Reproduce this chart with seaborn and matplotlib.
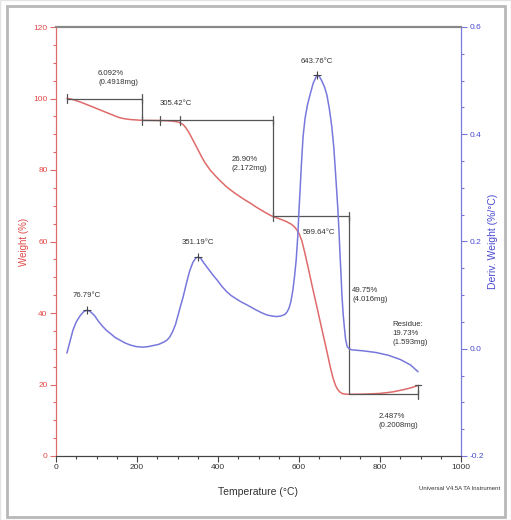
import matplotlib
matplotlib.use("Agg")
import matplotlib.pyplot as plt
from matplotlib.patches import Rectangle
from matplotlib.ticker import MultipleLocator, FormatStrFormatter
import seaborn as sns
import pandas as pd

# ---- data ----
temp_w = [27, 35, 45, 55, 65, 75, 85, 97, 109, 122, 135, 147, 158, 171, 185, 198, 212,
          240, 270, 285, 295, 305, 314, 320, 326, 332, 338, 344, 350, 355, 360, 367,
          375, 382, 390, 400, 410, 420, 430, 442, 455, 467, 480, 492, 505, 520, 535,
          548, 560, 570, 580, 588, 595, 601, 607, 614, 622, 633, 645, 657, 669, 677,
          684, 690, 695, 700, 706, 715, 724, 760, 800, 830, 860, 880, 894]
weight = [100, 99.9, 99.6, 99.2, 98.8, 98.35, 97.9, 97.35, 96.8, 96.2, 95.6, 95.05,
          94.6, 94.3, 94.1, 94.0, 93.9, 93.85, 93.8, 93.7, 93.55, 93.3, 92.7, 91.9,
          90.9, 89.7, 88.4, 87.1, 85.8, 84.7, 83.6, 82.2, 80.9, 79.8, 78.8, 77.6, 76.5,
          75.4, 74.5, 73.5, 72.5, 71.6, 70.7, 69.8, 68.9, 67.9, 67.0, 66.5, 66.0, 65.5,
          64.9, 64.2, 63.2, 62.0, 60.2, 57.0, 53.0, 47.3, 41.3, 35.2, 29.2, 25.0, 21.8,
          19.8, 18.7, 18.0, 17.5, 17.3, 17.25, 17.3, 17.5, 17.9, 18.6, 19.2, 19.73]

temp_d = [27, 35, 42, 50, 60, 68, 77, 85, 95, 105, 116, 125, 135, 146, 158, 170, 183,
          198, 215, 228, 240, 253, 265, 274, 281, 288, 295, 304, 314, 322, 330, 338,
          345, 351, 358, 365, 372, 380, 389, 398, 410, 422, 433, 445, 458, 471, 483,
          495, 508, 521, 533, 545, 555, 565, 570, 575, 580, 585, 589, 593, 597, 600,
          603, 606, 610, 615, 621, 627, 635, 644, 650, 656, 663, 669, 675, 681, 686,
          690, 693, 696, 699, 701, 704, 706, 709, 712, 715, 719, 724, 730, 760, 790,
          820, 850, 875, 894]
deriv = [-0.008, 0.015, 0.035, 0.05, 0.062, 0.069, 0.072, 0.069, 0.062, 0.051, 0.041,
         0.034, 0.028, 0.021, 0.016, 0.011, 0.007, 0.004, 0.003, 0.004, 0.006, 0.008,
         0.012, 0.016, 0.022, 0.032, 0.045, 0.07, 0.097, 0.122, 0.145, 0.161, 0.169,
         0.171, 0.168, 0.16, 0.153, 0.145, 0.136, 0.128, 0.116, 0.106, 0.099, 0.093,
         0.087, 0.082, 0.077, 0.072, 0.067, 0.063, 0.061, 0.06, 0.061, 0.064, 0.068,
         0.075, 0.088, 0.11, 0.135, 0.165, 0.21, 0.259, 0.30, 0.345, 0.395, 0.43,
         0.455, 0.473, 0.495, 0.51, 0.508, 0.5, 0.488, 0.473, 0.447, 0.414, 0.375,
         0.33, 0.295, 0.26, 0.215, 0.18, 0.135, 0.1, 0.065, 0.04, 0.018, 0.004, 0.0,
         -0.002, -0.004, -0.007, -0.012, -0.02, -0.03, -0.043]

peak_temps = [76.79, 351.19, 643.76]
peak_derivs = [0.072, 0.171, 0.51]
peak_labels = ["76.79°C", "351.19°C", "643.76°C"]

step_temps = [27, 212, 535, 724, 894]
step_weights = [100, 93.9, 67.0, 17.25, 19.73]
onset_temps = [257, 305.42]

x_ticks = [0, 200, 400, 600, 800, 1000]
w_ticks = [0, 20, 40, 60, 80, 100, 120]
d_ticks = [-0.2, 0.0, 0.2, 0.4, 0.6]

df_w = pd.DataFrame({"Temperature": temp_w, "Weight": weight})
df_d = pd.DataFrame({"Temperature": temp_d, "Deriv": deriv})

sns.set_style("white")
plt.rcParams['font.family'] = ['Liberation Sans', 'DejaVu Sans']

RED = "#e06a6a"
RED_T = "#e04848"
BLUE = "#7878dc"
BLUE_T = "#4a4ad0"
GRAY = "#555555"
TXT = "#333333"

fig = plt.figure(figsize=(5.11, 5.20), dpi=100)
# screenshot-like frame
fig.patches.append(Rectangle((7 / 511, 3 / 520), 498 / 511, 511 / 520, transform=fig.transFigure,
                             fill=False, edgecolor="#b8b8b8", linewidth=2.0))
fig.patches.append(Rectangle((0, 0), 1, 1, transform=fig.transFigure,
                             fill=False, edgecolor="#e4e4e4", linewidth=1.0))

ax = fig.add_axes([56 / 511, 1 - 456 / 520, 405 / 511, 429 / 520])
ax2 = ax.twinx()

sns.lineplot(data=df_w, x="Temperature", y="Weight", ax=ax, color=RED, linewidth=1.1,
             sort=False, estimator=None)
sns.lineplot(data=df_d, x="Temperature", y="Deriv", ax=ax2, color=BLUE, linewidth=1.1,
             sort=False, estimator=None)

ax.set_xlim(0, 1000)
ax.set_ylim(0, 120)
ax2.set_ylim(-0.2, 0.6)

ax.set_xticks(x_ticks)
ax.set_yticks(w_ticks)
ax2.set_yticks(d_ticks)
ax.xaxis.set_minor_locator(MultipleLocator(50))
ax.yaxis.set_minor_locator(MultipleLocator(5))
ax2.yaxis.set_minor_locator(MultipleLocator(0.05))
ax2.yaxis.set_major_formatter(FormatStrFormatter("%.1f"))

for a in (ax, ax2):
    a.spines["top"].set_color("#888888")
    a.spines["top"].set_linewidth(1.5)
    a.spines["bottom"].set_color("#444444")
    a.spines["left"].set_color(RED)
    a.spines["right"].set_color(BLUE)
    for s in a.spines.values():
        s.set_visible(True)

ax.tick_params(axis="x", which="both", direction="out", color="#444444", labelcolor="#333333",
               labelsize=6, length=4, width=0.8, pad=2, bottom=True)
ax.tick_params(axis="x", which="minor", length=2.5)
ax.tick_params(axis="y", which="both", direction="out", color=RED, labelcolor=RED_T,
               labelsize=6, length=4, width=0.8, pad=2, left=True)
ax.tick_params(axis="y", which="minor", length=2.5)
ax2.tick_params(axis="y", which="both", direction="out", color=BLUE, labelcolor=BLUE_T,
                labelsize=6, length=4, width=0.8, pad=2, right=True)
ax2.tick_params(axis="y", which="minor", length=2.5)

ax.set_xlabel("Temperature (°C)", fontsize=7.5, color="#333333", labelpad=11)
ax.set_ylabel("Weight (%)", fontsize=7, color=RED_T, labelpad=3)
ax2.set_ylabel("Deriv. Weight (%/°C)", fontsize=7.5, color=BLUE_T, labelpad=3, rotation=90)

# step brackets
cap = 1.3
for i in range(len(step_temps) - 1):
    t0, t1 = step_temps[i], step_temps[i + 1]
    w0, w1 = step_weights[i], step_weights[i + 1]
    ax.plot([t0, t1], [w0, w0], color=GRAY, lw=0.9, zorder=5)
    ax.plot([t1, t1], [w0, w1], color=GRAY, lw=0.9, zorder=5)
    ax.plot([t1, t1], [w0 - cap, w0 + cap], color=GRAY, lw=0.9, zorder=5)
    if i < len(step_temps) - 2:
        ax.plot([t0, t0], [w0 - cap, w0 + cap], color=GRAY, lw=0.9, zorder=5)
    else:
        ax.plot([t1 - 8, t1 + 8], [w1, w1], color=GRAY, lw=0.9, zorder=5)
for t in onset_temps:
    ax.plot([t, t], [step_weights[1] - cap, step_weights[1] + cap], color=GRAY, lw=0.9, zorder=5)

# peak markers
ax2.scatter(peak_temps, peak_derivs, marker="+", s=30, color="#444444", linewidths=0.8, zorder=6)

fs = 5.6
ls = 1.35
ax.text(104, 105.8, "6.092%\n(0.4918mg)", fontsize=fs, color=TXT, ha="left", va="center", linespacing=ls)
ax.text(257, 98.6, "305.42°C", fontsize=fs, color=TXT, ha="left", va="center")
ax.text(433, 81.6, "26.90%\n(2.172mg)", fontsize=fs, color=TXT, ha="left", va="center", linespacing=ls)
ax.text(610, 62.6, "599.64°C", fontsize=fs, color=TXT, ha="left", va="center")
ax.text(731, 45.0, "49.75%\n(4.016mg)", fontsize=fs, color=TXT, ha="left", va="center", linespacing=ls)
ax.text(830, 34.2, "Residue:\n19.73%\n(1.593mg)", fontsize=fs, color=TXT, ha="left", va="center", linespacing=ls)
ax.text(797, 9.8, "2.487%\n(0.2008mg)", fontsize=fs, color=TXT, ha="left", va="center", linespacing=ls)

label_offsets = [0.027, 0.027, 0.025]
for t, d, lab, off in zip(peak_temps, peak_derivs, peak_labels, label_offsets):
    ax2.text(t, d + off, lab, fontsize=fs, color=TXT, ha="center", va="center")

fig.text(460 / 511, 1 - 489 / 520, "Universal V4.5A TA Instrument", fontsize=4.3,
         color="#333333", ha="center", va="center")

fig.savefig("out.png", dpi=100)
